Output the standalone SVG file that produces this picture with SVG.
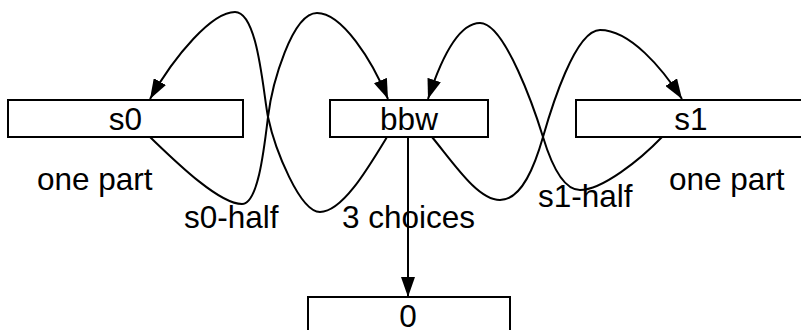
<svg xmlns="http://www.w3.org/2000/svg" width="801" height="330" viewBox="0 0 801 330">
<style>
.box{fill:#fff;stroke:#000;stroke-width:2}
.lbl{font-family:"Liberation Sans",Arial,sans-serif;font-size:31.5px;fill:#000}
.mid{text-anchor:middle}
.edge{fill:none;stroke:#000;stroke-width:2}
</style>
<defs>
<marker id="arr" viewBox="0 0 20 14" refX="20" refY="7" markerWidth="20" markerHeight="14" markerUnits="userSpaceOnUse" orient="auto">
<path d="M0,0 L20,7 L0,14 Z" fill="#000"/>
</marker>
</defs>
<rect width="801" height="330" fill="#fff"/>
<g id="s0"><rect class="box" x="8" y="100" width="235" height="37"/><text class="lbl mid" x="125.5" y="130">s0</text></g>
<g id="bbw"><rect class="box" x="330" y="100" width="158" height="37"/><text class="lbl mid" x="409" y="130">bbw</text></g>
<g id="s1"><rect class="box" x="576" y="100" width="235" height="37"/><text class="lbl mid" x="691" y="130">s1</text></g>
<g id="n0"><rect class="box" x="308" y="297" width="202" height="40"/><text class="lbl mid" x="408" y="327">0</text></g>
<g id="labels">
<text class="lbl" x="37" y="190">one part</text>
<text class="lbl" x="184" y="228">s0-half</text>
<text class="lbl" x="342" y="228">3 choices</text>
<text class="lbl" x="538" y="207">s1-half</text>
<text class="lbl" x="669" y="190">one part</text>
</g>
<g id="connectors">
<path class="edge" marker-end="url(#arr)" d="M387,137 C367,170 342,212 320,212 C300,212 275,150 268,117 C263,92 258,12 235,12 C212,12 175,55 150,99"/>
<path class="edge" marker-end="url(#arr)" d="M150,137 C172,158 218,204 242,204 C258,204 264,150 268,117 C272,84 292,13 317,13 C342,13 372,60 388,99"/>
<path class="edge" marker-end="url(#arr)" d="M432,137 C455,165 478,200 500,200 C522,200 535,165 543,137 C551,109 575,30 600,30 C630,30 662,68 682,99"/>
<path class="edge" marker-end="url(#arr)" d="M662,137 C640,160 602,190 580,190 C562,190 550,160 543,137 C535,111 505,23 480,23 C457,23 440,62 428,99"/>
<path class="edge" marker-end="url(#arr)" d="M408,137 L408,297"/>
</g>
</svg>
